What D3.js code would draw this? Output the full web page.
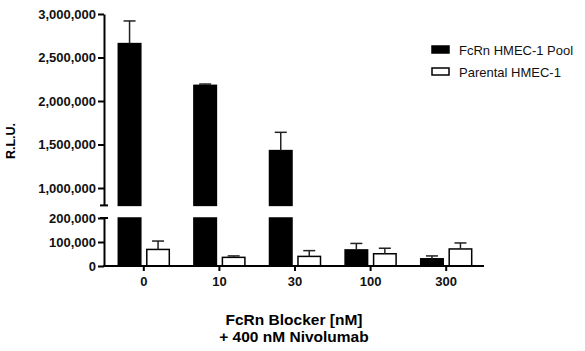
<!DOCTYPE html>
<html>
<head>
<meta charset="utf-8">
<script src="https://cdn.jsdelivr.net/npm/d3@7"></script>
<style>
  body { margin: 0; background: #fff; }
  text { font-family: "Liberation Sans", Arial, sans-serif; }
</style>
</head>
<body>
<div id="main"></div>
<script>
// data
var doses = ["0", "10", "30", "100", "300"];
var series = ["FcRn HMEC-1 Pool", "Parental HMEC-1"];
var poolMean = [2660000, 2180000, 1430000, 67000, 30000];
var poolErr = [260000, 15000, 210000, 27000, 12000];
var parentMean = [69000, 36000, 40000, 51000, 71000];
var parentErr = [35000, 6000, 24000, 23000, 25000];
var lowTicks = [0, 100000, 200000];
var highTicks = [1000000, 1500000, 2000000, 2500000, 3000000];

var svg = d3.select("#main").append("svg")
    .attr("width", 585)
    .attr("height", 351);

// broken y axis: two linear segments
var yLow = d3.scaleLinear().domain([0, 200000]).range([266, 218]);
var yHigh = d3.scaleLinear().domain([800000, 3000000]).range([205.4, 14]);

var x0 = d3.scaleBand().domain(doses).range([106, 484]);
var x1 = d3.scaleBand().domain(series).range([-25.5, 25.5]).paddingInner(0.21);

var fmt = d3.format(",");

var rows = [];
doses.forEach(function(d, i) {
  rows.push({dose: d, s: series[0], v: poolMean[i], e: poolErr[i]});
  rows.push({dose: d, s: series[1], v: parentMean[i], e: parentErr[i]});
});

function fillOf(s) { return s === series[0] ? "#000" : "#fff"; }

var bars = svg.append("g");
rows.forEach(function(r) {
  var bx = x0(r.dose) + x0.bandwidth() / 2 + x1(r.s);
  var bw = x1.bandwidth();
  var top;
  if (r.v > yLow.domain()[1]) {
    // lower piece fills the whole low segment, upper piece goes up to value
    bars.append("rect")
        .attr("x", bx).attr("width", bw)
        .attr("y", yLow(200000)).attr("height", yLow(0) - yLow(200000))
        .attr("fill", fillOf(r.s)).attr("stroke", "#000").attr("stroke-width", 1.5);
    bars.append("rect")
        .attr("x", bx).attr("width", bw)
        .attr("y", yHigh(r.v)).attr("height", yHigh(800000) - yHigh(r.v))
        .attr("fill", fillOf(r.s)).attr("stroke", "#000").attr("stroke-width", 1.5);
    top = [yHigh(r.v), yHigh(r.v + r.e)];
  } else {
    bars.append("rect")
        .attr("x", bx).attr("width", bw)
        .attr("y", yLow(r.v)).attr("height", yLow(0) - yLow(r.v))
        .attr("fill", fillOf(r.s)).attr("stroke", "#000").attr("stroke-width", 1.5);
    top = [yLow(r.v), yLow(r.v + r.e)];
  }
  var cx = bx + bw / 2;
  bars.append("line")
      .attr("x1", cx).attr("x2", cx).attr("y1", top[0]).attr("y2", top[1])
      .attr("stroke", "#222").attr("stroke-width", 1.5);
  bars.append("line")
      .attr("x1", cx - 6).attr("x2", cx + 6).attr("y1", top[1]).attr("y2", top[1])
      .attr("stroke", "#222").attr("stroke-width", 1.5);
});

// y axes
function styleAxis(g) {
  g.selectAll("path, line").attr("stroke", "#000").attr("stroke-width", 2);
  g.selectAll("text")
      .attr("font-size", 13).attr("font-weight", "bold")
      .attr("fill", "#111")
      .style("font-family", "'Liberation Sans', Arial, sans-serif");
}

var gHigh = svg.append("g").attr("transform", "translate(104,0)")
    .call(d3.axisLeft(yHigh).tickValues(highTicks).tickFormat(fmt).tickSize(6).tickSizeOuter(0).tickPadding(2));
styleAxis(gHigh);
var gLow = svg.append("g").attr("transform", "translate(104,0)")
    .call(d3.axisLeft(yLow).tickValues(lowTicks).tickFormat(fmt).tickSize(6).tickSizeOuter(0).tickPadding(2));
styleAxis(gLow);

// caps at the break
[yHigh(800000), yLow(200000)].forEach(function(yy) {
  svg.append("line")
      .attr("x1", 100).attr("x2", 108).attr("y1", yy).attr("y2", yy)
      .attr("stroke", "#000").attr("stroke-width", 2);
});

// x axis
var gx = svg.append("g").attr("transform", "translate(0,266)")
    .call(d3.axisBottom(x0).tickSize(5).tickSizeOuter(0).tickPadding(6));
gx.select(".domain").remove();
svg.append("line")
    .attr("x1", 103).attr("x2", 484).attr("y1", 266).attr("y2", 266)
    .attr("stroke", "#000").attr("stroke-width", 2);
styleAxis(gx);

// axis titles
svg.append("text")
    .attr("transform", "translate(15,141) rotate(-90)")
    .attr("text-anchor", "middle")
    .attr("font-size", 12.5).attr("font-weight", "bold")
    .text("R.L.U.");

svg.append("text")
    .attr("x", 294).attr("y", 325)
    .attr("text-anchor", "middle")
    .attr("font-size", 15.5).attr("font-weight", "bold")
    .text("FcRn Blocker [nM]");
svg.append("text")
    .attr("x", 294).attr("y", 342)
    .attr("text-anchor", "middle")
    .attr("font-size", 15.5).attr("font-weight", "bold")
    .text("+ 400 nM Nivolumab");

// legend
var legend = svg.append("g").attr("transform", "translate(432,46)");
series.forEach(function(s, i) {
  legend.append("rect")
      .attr("x", 0).attr("y", i * 22).attr("width", 17).attr("height", 7)
      .attr("fill", fillOf(s)).attr("stroke", "#000").attr("stroke-width", 1.5);
  legend.append("text")
      .attr("x", 27).attr("y", i * 22 + 8.5)
      .attr("font-size", 13)
      .attr("fill", "#111")
      .text(s);
});
</script>
</body>
</html>
